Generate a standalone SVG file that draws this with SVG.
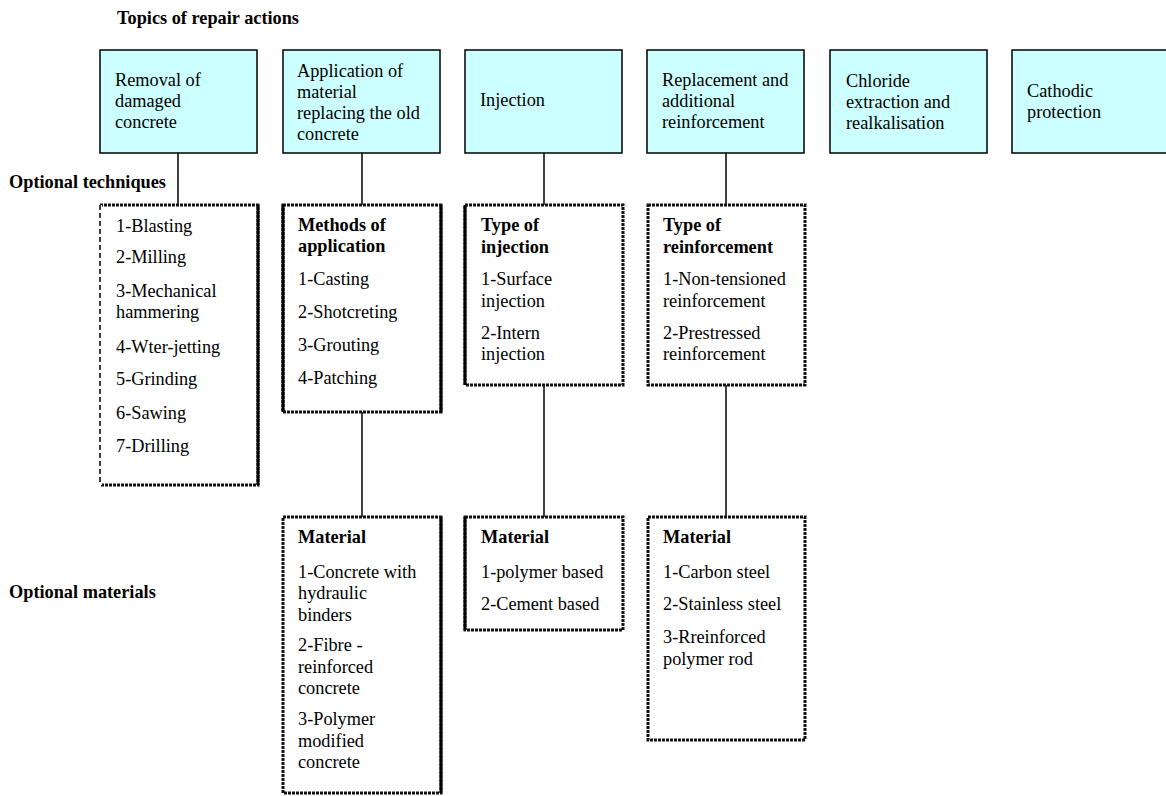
<svg xmlns="http://www.w3.org/2000/svg" width="1166" height="796" viewBox="0 0 1166 796">
<style>
text{font-family:"Liberation Serif","Times New Roman",serif;font-size:18.3px;fill:#000}
.b{font-weight:bold}
.top{fill:#ccffff;stroke:#000;stroke-width:1.5}
.box{fill:#fff;stroke:#111;stroke-width:3;stroke-dasharray:3 1}
.sol{stroke:#000;stroke-width:3;fill:none}
.dsh{stroke:#000;stroke-width:1.5;stroke-dasharray:5 3;fill:none}
.con line{stroke:#000;stroke-width:1.5}
</style>
<rect width="1166" height="796" fill="#fff"/>
<text class="b" x="117" y="24">Topics of repair actions</text>
<text class="b" x="9" y="188">Optional techniques</text>
<text class="b" x="9" y="598">Optional materials</text>

<g id="connectors" class="con">
<line x1="178" y1="153" x2="178" y2="205"/>
<line x1="362" y1="153" x2="362" y2="205"/>
<line x1="544" y1="153" x2="544" y2="205"/>
<line x1="726" y1="153" x2="726" y2="205"/>
<line x1="362" y1="412" x2="362" y2="517"/>
<line x1="544" y1="385" x2="544" y2="517"/>
<line x1="726" y1="385" x2="726" y2="517"/>
</g>

<g id="t1"><rect class="top" x="100" y="50" width="157" height="103"/>
<text x="115" y="86">Removal of</text><text x="115" y="107">damaged</text><text x="115" y="128">concrete</text></g>
<g id="t2"><rect class="top" x="283" y="50" width="157" height="103"/>
<text x="297" y="77">Application of</text><text x="297" y="98">material</text><text x="297" y="119">replacing the old</text><text x="297" y="140">concrete</text></g>
<g id="t3"><rect class="top" x="465" y="50" width="157" height="103"/>
<text x="480" y="106">Injection</text></g>
<g id="t4"><rect class="top" x="647" y="50" width="157" height="103"/>
<text x="662" y="86">Replacement and</text><text x="662" y="107">additional</text><text x="662" y="128">reinforcement</text></g>
<g id="t5"><rect class="top" x="830" y="50" width="157" height="103"/>
<text x="846" y="87">Chloride</text><text x="846" y="108">extraction and</text><text x="846" y="129">realkalisation</text></g>
<g id="t6"><rect class="top" x="1012" y="50" width="160" height="103"/>
<text x="1027" y="97">Cathodic</text><text x="1027" y="118">protection</text></g>

<g id="techA"><rect class="box" x="100" y="205" width="158" height="280"/>
<line class="sol" x1="258" y1="205" x2="258" y2="485"/>
<line x1="100" y1="205" x2="100" y2="485" stroke="#fff" stroke-width="4"/>
<line class="dsh" x1="100" y1="205" x2="100" y2="485"/>
<text x="116" y="232">1-Blasting</text><text x="116" y="263">2-Milling</text><text x="116" y="297">3-Mechanical</text><text x="116" y="318">hammering</text><text x="116" y="353">4-Wter-jetting</text><text x="116" y="385">5-Grinding</text><text x="116" y="419">6-Sawing</text><text x="116" y="452">7-Drilling</text></g>

<g id="techB"><rect class="box" x="283" y="205" width="158" height="207"/>
<line class="sol" x1="283" y1="205" x2="283" y2="412"/><line class="sol" x1="441" y1="205" x2="441" y2="412"/>
<text class="b" x="298" y="231">Methods of</text><text class="b" x="298" y="252">application</text><text x="298" y="285">1-Casting</text><text x="298" y="318">2-Shotcreting</text><text x="298" y="351">3-Grouting</text><text x="298" y="384">4-Patching</text></g>

<g id="techC"><rect class="box" x="465" y="205" width="158" height="180"/>
<line class="sol" x1="465" y1="205" x2="465" y2="385"/>
<text class="b" x="481" y="231">Type of</text><text class="b" x="481" y="253">injection</text><text x="481" y="285">1-Surface</text><text x="481" y="307">injection</text><text x="481" y="339">2-Intern</text><text x="481" y="360">injection</text></g>

<g id="techD"><rect class="box" x="648" y="205" width="157" height="180"/>
<text class="b" x="663" y="231">Type of</text><text class="b" x="663" y="253">reinforcement</text><text x="663" y="285">1-Non-tensioned</text><text x="663" y="307">reinforcement</text><text x="663" y="339">2-Prestressed</text><text x="663" y="360">reinforcement</text></g>

<g id="matB"><rect class="box" x="283" y="517" width="158" height="276"/>
<line class="sol" x1="441" y1="517" x2="441" y2="793"/>
<text class="b" x="298" y="543">Material</text><text x="298" y="578">1-Concrete with</text><text x="298" y="599">hydraulic</text><text x="298" y="621">binders</text><text x="298" y="651">2-Fibre -</text><text x="298" y="673">reinforced</text><text x="298" y="694">concrete</text><text x="298" y="725">3-Polymer</text><text x="298" y="747">modified</text><text x="298" y="768">concrete</text></g>

<g id="matC"><rect class="box" x="465" y="517" width="158" height="113"/>
<line class="sol" x1="465" y1="517" x2="465" y2="630"/>
<text class="b" x="481" y="543">Material</text><text x="481" y="578">1-polymer based</text><text x="481" y="610">2-Cement based</text></g>

<g id="matD"><rect class="box" x="648" y="517" width="157" height="223"/>
<text class="b" x="663" y="543">Material</text><text x="663" y="578">1-Carbon steel</text><text x="663" y="610">2-Stainless steel</text><text x="663" y="643">3-Rreinforced</text><text x="663" y="665">polymer rod</text></g>
</svg>
